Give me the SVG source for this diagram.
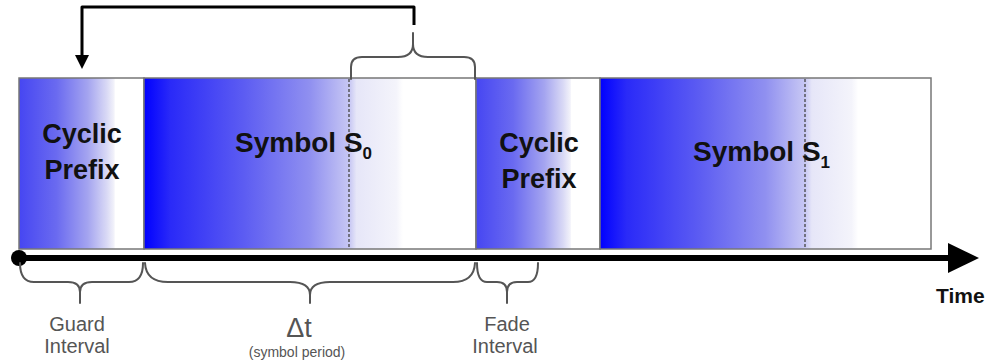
<svg xmlns="http://www.w3.org/2000/svg" width="987" height="364" viewBox="0 0 987 364">
<defs>
<linearGradient id="gcp" x1="0" y1="0" x2="1" y2="0">
<stop offset="0" stop-color="#4646f2"/>
<stop offset="0.3" stop-color="#6a6af0"/>
<stop offset="0.55" stop-color="#a4a4f0"/>
<stop offset="0.7" stop-color="#d8d8f5"/>
<stop offset="0.76" stop-color="#f2f2fa"/>
<stop offset="0.77" stop-color="#ffffff"/>
<stop offset="1" stop-color="#ffffff"/>
</linearGradient>
<linearGradient id="gsym" x1="0" y1="0" x2="1" y2="0">
<stop offset="0" stop-color="#0000ff"/>
<stop offset="0.08" stop-color="#2a2af8"/>
<stop offset="0.3" stop-color="#5c5cf2"/>
<stop offset="0.5" stop-color="#9090f0"/>
<stop offset="0.62" stop-color="#c8c8f4"/>
<stop offset="0.64" stop-color="#e6e6f8"/>
<stop offset="0.76" stop-color="#f4f4fb"/>
<stop offset="0.78" stop-color="#ffffff"/>
<stop offset="1" stop-color="#ffffff"/>
</linearGradient>
</defs>
<style>
.blk{stroke:#777;stroke-width:1.5}
.big{font-family:"Liberation Sans",Arial,sans-serif;font-weight:bold;font-size:27px;fill:#111}
.sym{font-family:"Liberation Sans",Arial,sans-serif;font-weight:bold;font-size:28px;fill:#111}
.sub{font-size:17px}
.lbl{font-family:"Liberation Sans",Arial,sans-serif;font-size:20px;fill:#555;text-anchor:middle}
.dt{font-size:27px}
.per{font-size:14px}
.dash{stroke:#444;stroke-width:1.3;stroke-dasharray:3 2;fill:none}
.brace{fill:none;stroke:#555;stroke-width:2;stroke-linecap:round}
</style>
<g id="cp1">
<rect class="blk" x="19" y="78" width="125" height="171" fill="url(#gcp)"/>
<text class="big" text-anchor="middle"><tspan x="82" y="143">Cyclic</tspan><tspan x="82" y="179">Prefix</tspan></text>
</g>
<g id="s0">
<rect class="blk" x="144" y="78" width="332" height="171" fill="url(#gsym)"/>
<line class="dash" x1="349" y1="79" x2="349" y2="248"/>
<text class="sym" x="235" y="152">Symbol S<tspan class="sub" dy="7">0</tspan></text>
</g>
<g id="cp2">
<rect class="blk" x="476" y="78" width="124" height="171" fill="url(#gcp)"/>
<text class="big" text-anchor="middle"><tspan x="539" y="152">Cyclic</tspan><tspan x="539" y="188">Prefix</tspan></text>
</g>
<g id="s1">
<rect class="blk" x="600" y="78" width="331" height="171" fill="url(#gsym)"/>
<line class="dash" x1="805" y1="79" x2="805" y2="248"/>
<text class="sym" x="693" y="161">Symbol S<tspan class="sub" dy="7">1</tspan></text>
</g>
<g id="timeaxis">
<circle cx="19" cy="258" r="8" fill="#000"/>
<line x1="19" y1="258" x2="952" y2="258" stroke="#000" stroke-width="6"/>
<polygon points="948,243 979,258 948,273" fill="#000"/>
<text x="936" y="303" font-family="Liberation Sans, Arial, sans-serif" font-weight="bold" font-size="21" fill="#111">Time</text>
</g>
<g id="connectors">
<path d="M414,25 V7 H82 V58" fill="none" stroke="#000" stroke-width="3" stroke-linejoin="round"/>
<polygon points="75,55 89,55 82,69" fill="#000"/>
<path class="brace" d="M351,79 V67 Q351,57 362,57 H398 Q413,57 413,44 V33 M413,44 Q413,57 428,57 H464 Q475,57 475,67 V79"/>
<path class="brace" d="M20,263 Q20,282 34,282 H68 Q80,282 80,292 V303 M80,292 Q80,282 92,282 H129 Q143,282 143,263"/>
<path class="brace" d="M145,263 Q146,282 168,282 H290 Q310,282 310,295 V303 M310,295 Q310,282 330,282 H453 Q474,282 475,263"/>
<path class="brace" d="M477,263 Q477,282 487,282 H497 Q507,282 507,292 V303 M507,292 Q507,282 517,282 H528 Q538,282 538,263"/>
</g>
<g id="labels">
<text class="lbl" x="77" y="331">Guard</text>
<text class="lbl" x="77" y="353">Interval</text>
<text class="lbl dt" x="299" y="337">Δt</text>
<text class="lbl per" x="297" y="357">(symbol period)</text>
<text class="lbl" x="507" y="331">Fade</text>
<text class="lbl" x="505" y="353">Interval</text>
</g>
</svg>
